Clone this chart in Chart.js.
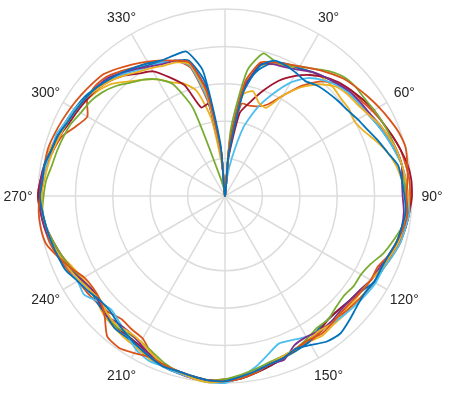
<!DOCTYPE html>
<html>
<head>
<meta charset="utf-8">
<script src="https://cdn.jsdelivr.net/npm/chart.js@4.4.0/dist/chart.umd.min.js"></script>
<style>
    html, body { margin: 0; padding: 0; background: #ffffff; overflow: hidden; }
    #polar_view { display: block; }
</style>
</head>
<body>
<canvas id="polar_view" width="461" height="395"></canvas>
<script>
const polar_canvas = document.getElementById('polar_view');

// angle of every sample (degrees, clockwise from the top)
const angle_steps = [
    0, 5, 10, 15, 20, 25, 30, 35, 40, 45, 50, 55,
    60, 65, 70, 75, 80, 85, 90, 95, 100, 105, 110, 115,
    120, 125, 130, 135, 140, 145, 150, 155, 160, 165, 170, 175,
    180, 185, 190, 195, 200, 205, 210, 215, 220, 225, 230, 235,
    240, 245, 250, 255, 260, 265, 270, 275, 280, 285, 290, 295,
    300, 305, 310, 315, 320, 325, 330, 335, 340, 345, 350, 355
];

// labelled spokes
const tick_angles = [0, 30, 60, 90, 120, 150, 180, 210, 240, 270, 300, 330];
const tick_labels = ['0°', '30°', '60°', '90°', '120°', '150°', '180°', '210°', '240°', '270°', '300°', '330°'];

// radial rings
const ring_values = [0.2, 0.4, 0.6, 0.8, 1.0];

// measured directivity, normalised amplitude
const series_1 = [
    0, 0.22, 0.56, 0.72, 0.77, 0.77, 0.76, 0.75, 0.77, 0.78, 0.79, 0.80,
    0.82, 0.84, 0.87, 0.90, 0.94, 0.95, 0.96, 0.97, 0.96, 0.95, 0.93, 0.92,
    0.92, 0.91, 0.92, 0.94, 0.96, 0.95, 0.92, 0.90, 0.92, 0.93, 0.95, 0.97,
    0.99, 0.99, 0.98, 0.97, 0.97, 0.95, 0.93, 0.91, 0.89, 0.87, 0.87, 0.89,
    0.91, 0.94, 0.95, 0.96, 0.97, 0.98, 0.99, 0.98, 0.98, 0.96, 0.95, 0.93,
    0.92, 0.91, 0.90, 0.88, 0.86, 0.84, 0.82, 0.80, 0.80, 0.80, 0.68, 0.28
];
const series_2 = [
    0, 0.28, 0.62, 0.74, 0.76, 0.78, 0.80, 0.83, 0.86, 0.89, 0.91, 0.93,
    0.95, 0.97, 0.99, 1.00, 0.99, 0.98, 0.97, 0.98, 0.97, 0.95, 0.93, 0.90,
    0.90, 0.89, 0.88, 0.88, 0.89, 0.90, 0.89, 0.90, 0.92, 0.93, 0.96, 0.98,
    0.99, 0.99, 0.98, 0.97, 0.96, 0.95, 0.97, 0.99, 0.98, 0.91, 0.87, 0.86,
    0.87, 0.91, 0.95, 0.99, 1.00, 1.00, 0.99, 0.98, 0.98, 0.98, 0.97, 0.96,
    0.95, 0.94, 0.93, 0.92, 0.89, 0.86, 0.83, 0.80, 0.77, 0.74, 0.57, 0.24
];
const series_3 = [
    0, 0.26, 0.55, 0.58, 0.53, 0.52, 0.62, 0.71, 0.78, 0.83, 0.85, 0.86,
    0.88, 0.91, 0.93, 0.95, 0.96, 0.97, 0.98, 0.98, 0.97, 0.96, 0.94, 0.92,
    0.90, 0.89, 0.89, 0.88, 0.89, 0.88, 0.89, 0.90, 0.91, 0.93, 0.95, 0.97,
    0.99, 1.00, 0.99, 0.97, 0.96, 0.93, 0.90, 0.89, 0.90, 0.89, 0.87, 0.88,
    0.90, 0.92, 0.94, 0.96, 0.97, 0.98, 0.98, 0.97, 0.96, 0.95, 0.94, 0.93,
    0.92, 0.91, 0.89, 0.87, 0.84, 0.81, 0.79, 0.77, 0.76, 0.73, 0.55, 0.20
];
const series_4 = [
    0, 0.24, 0.58, 0.73, 0.75, 0.76, 0.78, 0.81, 0.83, 0.85, 0.87, 0.88,
    0.89, 0.91, 0.93, 0.95, 0.96, 0.95, 0.95, 0.96, 0.96, 0.95, 0.93, 0.91,
    0.90, 0.88, 0.87, 0.87, 0.88, 0.88, 0.87, 0.88, 0.93, 0.93, 0.95, 0.97,
    0.99, 0.99, 0.98, 0.97, 0.96, 0.94, 0.91, 0.89, 0.89, 0.90, 0.88, 0.87,
    0.89, 0.92, 0.94, 0.96, 0.98, 0.99, 0.99, 0.99, 0.98, 0.96, 0.95, 0.93,
    0.92, 0.91, 0.90, 0.89, 0.86, 0.83, 0.80, 0.78, 0.77, 0.74, 0.58, 0.24
];
const series_5 = [
    0, 0.36, 0.68, 0.79, 0.77, 0.77, 0.80, 0.83, 0.87, 0.90, 0.91, 0.91,
    0.92, 0.93, 0.94, 0.95, 0.96, 0.96, 0.97, 0.97, 0.96, 0.93, 0.90, 0.86,
    0.84, 0.84, 0.83, 0.84, 0.86, 0.86, 0.88, 0.90, 0.91, 0.92, 0.94, 0.96,
    0.98, 0.99, 0.98, 0.97, 0.95, 0.92, 0.90, 0.90, 0.91, 0.89, 0.88, 0.88,
    0.89, 0.91, 0.93, 0.95, 0.97, 0.98, 0.97, 0.96, 0.94, 0.93, 0.92, 0.91,
    0.89, 0.88, 0.86, 0.83, 0.79, 0.76, 0.72, 0.66, 0.50, 0.12, 0.05, 0.02
];
const series_6 = [
    0, 0.08, 0.20, 0.38, 0.50, 0.60, 0.70, 0.77, 0.81, 0.84, 0.86, 0.87,
    0.88, 0.90, 0.92, 0.94, 0.96, 0.97, 0.98, 0.99, 0.98, 0.97, 0.95, 0.93,
    0.93, 0.92, 0.91, 0.90, 0.89, 0.88, 0.87, 0.85, 0.84, 0.88, 0.93, 0.97,
    1.00, 1.00, 0.99, 0.98, 0.97, 0.97, 0.95, 0.91, 0.88, 0.86, 0.88, 0.92,
    0.91, 0.92, 0.94, 0.96, 0.97, 0.98, 0.98, 0.98, 0.97, 0.96, 0.96, 0.94,
    0.93, 0.91, 0.90, 0.88, 0.85, 0.82, 0.80, 0.79, 0.77, 0.72, 0.52, 0.20
];
const series_7 = [
    0, 0.20, 0.45, 0.52, 0.60, 0.68, 0.74, 0.79, 0.83, 0.86, 0.88, 0.90,
    0.92, 0.93, 0.95, 0.97, 0.99, 1.00, 1.00, 0.99, 0.98, 0.96, 0.94, 0.92,
    0.90, 0.88, 0.87, 0.86, 0.86, 0.88, 0.89, 0.90, 0.92, 0.94, 0.96, 0.98,
    0.99, 0.99, 0.99, 0.98, 0.96, 0.94, 0.92, 0.91, 0.91, 0.89, 0.87, 0.87,
    0.89, 0.91, 0.93, 0.95, 0.97, 0.99, 1.00, 0.99, 0.97, 0.95, 0.94, 0.92,
    0.91, 0.90, 0.89, 0.87, 0.84, 0.80, 0.77, 0.70, 0.63, 0.49, 0.50, 0.22
];
const series_8 = [
    0, 0.30, 0.60, 0.70, 0.76, 0.78, 0.79, 0.81, 0.83, 0.85, 0.86, 0.87,
    0.88, 0.90, 0.92, 0.94, 0.96, 0.97, 0.97, 0.98, 0.98, 0.96, 0.94, 0.93,
    0.92, 0.89, 0.87, 0.86, 0.86, 0.87, 0.90, 0.91, 0.92, 0.94, 0.96, 0.98,
    0.99, 0.99, 0.98, 0.98, 0.97, 0.95, 0.93, 0.92, 0.92, 0.90, 0.89, 0.88,
    0.89, 0.91, 0.94, 0.96, 0.97, 0.98, 0.98, 0.98, 0.97, 0.96, 0.95, 0.94,
    0.93, 0.92, 0.90, 0.88, 0.85, 0.83, 0.81, 0.79, 0.77, 0.75, 0.62, 0.25
];
const series_9 = [
    0, 0.25, 0.50, 0.50, 0.51, 0.54, 0.62, 0.72, 0.80, 0.85, 0.88, 0.89,
    0.91, 0.93, 0.95, 0.97, 0.98, 0.99, 0.99, 0.99, 0.98, 0.97, 0.95, 0.93,
    0.92, 0.91, 0.90, 0.89, 0.88, 0.89, 0.90, 0.90, 0.92, 0.93, 0.95, 0.97,
    0.98, 0.99, 0.99, 0.97, 0.96, 0.93, 0.88, 0.87, 0.86, 0.88, 0.89, 0.90,
    0.91, 0.93, 0.95, 0.97, 0.98, 0.99, 1.00, 0.99, 0.97, 0.95, 0.93, 0.88,
    0.85, 0.90, 0.91, 0.90, 0.87, 0.84, 0.82, 0.79, 0.77, 0.71, 0.50, 0.20
];
const series_10 = [
    0, 0.27, 0.60, 0.72, 0.75, 0.77, 0.79, 0.81, 0.82, 0.82, 0.81, 0.81,
    0.80, 0.82, 0.86, 0.90, 0.93, 0.95, 0.97, 0.97, 0.96, 0.95, 0.94, 0.93,
    0.92, 0.91, 0.90, 0.90, 0.90, 0.91, 0.90, 0.91, 0.92, 0.93, 0.95, 0.97,
    0.99, 1.00, 0.99, 0.98, 0.97, 0.96, 0.94, 0.93, 0.92, 0.91, 0.89, 0.87,
    0.88, 0.90, 0.93, 0.95, 0.97, 0.98, 0.99, 0.99, 0.98, 0.97, 0.95, 0.93,
    0.92, 0.90, 0.88, 0.85, 0.80, 0.76, 0.72, 0.67, 0.64, 0.58, 0.42, 0.15
];

const all_series = [series_1, series_2, series_3, series_4, series_5,
    series_6, series_7, series_8, series_9, series_10];

// matlab line colour order
const series_colors = ['#0072BD', '#D95319', '#EDB120', '#7E2F8E', '#77AC30',
    '#4DBEEE', '#A2142F', '#0072BD', '#D95319', '#EDB120'];

const grid_color = '#dcdcdc';
const label_font = '14px "Liberation Sans", Arial, Helvetica, sans-serif';

// draw the degree labels around the outer ring
const angle_label_plugin = {
    id: 'angle_labels',
    afterDraw(chart) {
        const scale = chart.scales.r;
        const ctx = chart.ctx;
        ctx.save();
        ctx.font = label_font;
        ctx.fillStyle = '#262626';
        ctx.textAlign = 'center';
        ctx.textBaseline = 'middle';
        tick_angles.forEach((angle, i) => {
            const pos = scale.getPointPosition(angle_steps.indexOf(angle), scale.drawingArea + 20);
            ctx.fillText(tick_labels[i], pos.x, pos.y + 1);
        });
        ctx.restore();
    }
};

const datasets = all_series.map((values, i) => ({
    label: `Messung ${i + 1}`,
    data: values,
    borderColor: series_colors[i],
    backgroundColor: series_colors[i],
    borderWidth: 1.8,
    pointRadius: 0,
    fill: false,
    tension: 0.2
}));

new Chart(polar_canvas, {
    type: 'radar',
    data: {
        labels: angle_steps,
        datasets: datasets
    },
    options: {
        responsive: false,
        animation: false,
        layout: {
            padding: { left: 38, right: 49, top: 9, bottom: 12 }
        },
        elements: {
            line: { borderJoinStyle: 'round' }
        },
        plugins: {
            legend: { display: false },
            tooltip: { enabled: false }
        },
        scales: {
            r: {
                min: 0,
                max: ring_values[ring_values.length - 1],
                ticks: {
                    display: false,
                    stepSize: ring_values[0]
                },
                pointLabels: { display: false },
                grid: {
                    circular: true,
                    color: grid_color,
                    lineWidth: 1.5
                },
                angleLines: {
                    color: (ctx) => tick_angles.includes(angle_steps[ctx.index]) ? grid_color : 'rgba(0,0,0,0)',
                    lineWidth: 1.5
                }
            }
        }
    },
    plugins: [angle_label_plugin]
});
</script>
</body>
</html>
